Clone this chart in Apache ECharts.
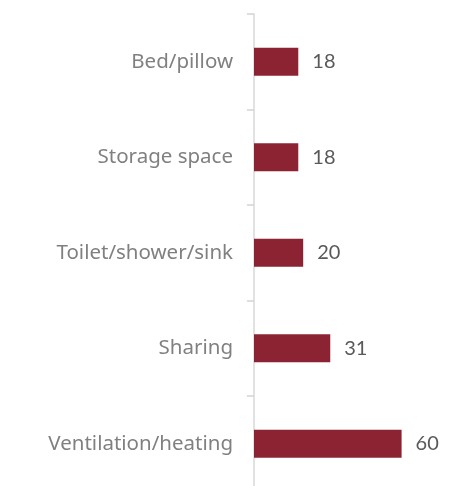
<!DOCTYPE html>
<html>
<head>
<meta charset="utf-8">
<script src="https://cdn.jsdelivr.net/npm/echarts@6/dist/echarts.min.js"></script>
<style>
  html, body { margin: 0; padding: 0; background: #fff; }
  #chart { width: 470px; height: 486px; }
</style>
</head>
<body>
<div id="chart"></div>
<script>
// categories top to bottom
var categories = ['Bed/pillow', 'Storage space', 'Toilet/shower/sink', 'Sharing', 'Ventilation/heating'];
var values = [18, 18, 20, 31, 60];

var myChart = echarts.init(document.getElementById('chart'));
myChart.setOption({
  animation: false,
  grid: {
    left: 254,
    top: 14,
    width: 246,
    height: 477.5,
    outerBoundsMode: 'none',
    containLabel: false
  },
  xAxis: {
    type: 'value',
    min: 0,
    max: 100,
    show: false
  },
  yAxis: {
    type: 'category',
    inverse: true,
    data: categories,
    axisLine: { show: true, lineStyle: { color: '#d9d9d9', width: 1.5 } },
    axisTick: { show: true, length: 7, lineStyle: { color: '#d4d4d4', width: 1.5 } },
    axisLabel: {
      margin: 21,
      color: '#808080',
      fontSize: 20.5,
      fontFamily: 'Noto Sans',
      padding: [0, 0, 3, 0]
    }
  },
  series: [{
    type: 'bar',
    data: values,
    barWidth: 28,
    itemStyle: { color: '#8b2332' },
    label: {
      show: true,
      position: 'right',
      distance: 14,
      color: '#595959',
      fontSize: 20,
      fontFamily: 'Liberation Sans Narrow, Lato'
    }
  }]
});
</script>
</body>
</html>
